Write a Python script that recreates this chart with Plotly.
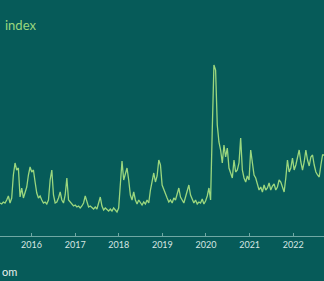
import pandas as pd
import plotly.graph_objects as go

start_date = "2015-04-12"
step_days = 14
index_values = [
    111, 108, 114, 111, 120, 132, 111, 126, 195, 231,
    210, 216, 129, 156, 126, 144, 159, 195, 219, 204,
    210, 174, 141, 126, 132, 120, 111, 114, 108, 120,
    180, 210, 135, 111, 114, 126, 144, 120, 111, 135,
    186, 120, 114, 108, 102, 105, 99, 102, 96, 102,
    111, 132, 114, 99, 102, 96, 93, 99, 93, 111,
    129, 102, 90, 96, 90, 87, 93, 87, 96, 90,
    84, 96, 165, 237, 180, 195, 216, 180, 135, 120,
    144, 120, 108, 120, 111, 105, 114, 108, 120, 111,
    150, 180, 201, 174, 192, 240, 225, 165, 150, 135,
    126, 114, 120, 111, 126, 120, 135, 156, 129, 120,
    111, 129, 150, 165, 135, 120, 111, 120, 108, 114,
    111, 123, 108, 117, 132, 156, 120, 330, 525, 510,
    345, 294, 270, 231, 285, 249, 276, 216, 201, 186,
    240, 204, 210, 231, 306, 210, 186, 174, 192, 180,
    270, 225, 195, 186, 165, 150, 159, 144, 165, 150,
    156, 171, 150, 162, 168, 150, 159, 180, 174, 156,
    144, 186, 240, 204, 216, 246, 210, 225, 249, 270,
    234, 210, 234, 270, 240, 222, 249, 255, 225, 204,
    195, 189, 225, 255, 255,
]
dates = pd.date_range(start_date, periods=len(index_values), freq=f"{step_days}D")
tick_years = ["2016", "2017", "2018", "2019", "2020", "2021", "2022"]

BG = "#065b59"
LINE = "#9bd77e"

fig = go.Figure()
fig.add_trace(go.Scatter(
    x=dates, y=index_values, mode="lines",
    line=dict(color=LINE, width=1.3),
    hoverinfo="skip", showlegend=False,
))

fig.update_layout(
    width=324, height=281,
    margin=dict(l=0, r=0, t=0, b=45),
    paper_bgcolor=BG, plot_bgcolor=BG,
    font=dict(family="Lato, Open Sans, sans-serif"),
    xaxis=dict(
        range=["2015-04-12", "2022-09-16"],
        tickvals=[f"{y}-01-01" for y in tick_years],
        ticktext=tick_years,
        showgrid=False, zeroline=False,
        showline=True, linecolor="#6fa8a4", linewidth=1,
        ticks="inside", ticklen=3, tickcolor="#6fa8a4",
        tickfont=dict(size=9, color="#d6e6e2"),
    ),
    yaxis=dict(
        range=[12, 720], visible=False, showgrid=False, zeroline=False,
    ),
    annotations=[
        dict(text="index", x=3, y=25, xref="paper", yref="paper",
             showarrow=False, xanchor="left", yanchor="middle",
             font=dict(size=13, color=LINE)),
        dict(text="om", x=0, y=271, xref="paper", yref="paper",
             showarrow=False, xanchor="left", yanchor="middle",
             font=dict(size=11, color="#e6efed")),
    ],
)

# convert pixel positions of annotations to paper coordinates
plot_h = 281 - 45
for ann in fig.layout.annotations:
    ann.x = ann.x / 324
    ann.y = (plot_h - ann.y) / plot_h

fig.write_html("out.html")
